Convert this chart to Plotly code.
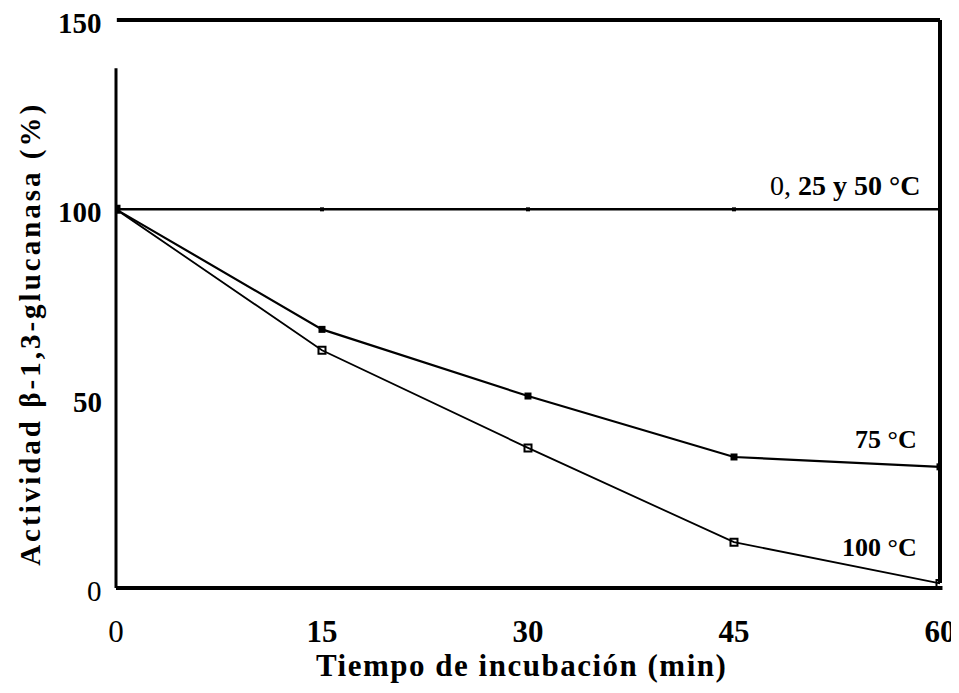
import plotly.graph_objects as go

# datos (actividad residual, %)
tiempo = [0, 15, 30, 45, 60]
act_0_25_50 = [100, 100, 100, 100, 100]
act_75 = [100, 68.3, 50.7, 34.6, 32]
act_100 = [100, 62.8, 37.0, 12.1, 1.2]

x_ticks = [0, 15, 30, 45, 60]
x_ticktext = ["0", "<b>15</b>", "<b>30</b>", "<b>45</b>", "<b>60</b>"]
y_ticks = [0, 50, 100, 150]
y_ticktext = ["0", "<b>50</b>", "<b>100</b>", "<b>150</b>"]

FONT = "Liberation Serif"

fig = go.Figure()

fig.add_trace(go.Scatter(
    x=tiempo, y=act_0_25_50, mode="lines+markers",
    line=dict(color="black", width=2.5),
    marker=dict(symbol="square", size=4, color="black"),
    name="0, 25 y 50 °C",
))
fig.add_trace(go.Scatter(
    x=tiempo, y=act_75, mode="lines+markers",
    line=dict(color="black", width=2.2),
    marker=dict(symbol="square", size=7, color="black"),
    name="75 °C",
))
fig.add_trace(go.Scatter(
    x=tiempo, y=act_100, mode="lines+markers",
    line=dict(color="black", width=1.8),
    marker=dict(symbol="square-open", size=7, color="black", line=dict(width=2)),
    name="100 °C",
))

# marco del gráfico (la esquina superior izquierda queda abierta como en el original)
frame = dict(type="line", xref="paper", yref="paper", line=dict(color="black", width=4))
fig.add_shape(**frame, x0=0.001, x1=1.0, y0=1, y1=1)
fig.add_shape(**frame, x0=1.0, x1=1.0, y0=0.009, y1=1)
fig.add_shape(**frame, x0=0, x1=1.003, y0=0, y1=0)
fig.add_shape(type="line", xref="paper", yref="paper", x0=0, x1=0, y0=0, y1=0.915,
              line=dict(color="black", width=3))

# etiquetas del eje y (un poco por debajo de cada valor, como en el original)
for v, t in zip(y_ticks, y_ticktext):
    fig.add_annotation(x=0, y=v, xref="paper", yref="y", xanchor="right", yanchor="middle",
                       xshift=-12, yshift=-3, showarrow=False, text=t,
                       font=dict(family=FONT, size=29, color="black"))

# etiquetas de las curvas
fig.add_annotation(x=58.7, y=100, xref="x", yref="y", xanchor="right", yanchor="middle",
                   yshift=24, showarrow=False,
                   text="<span style='font-weight:normal'>0, </span><b>25 y 50 °C</b>",
                   font=dict(family=FONT, size=28, color="black"))
fig.add_annotation(x=58.5, y=act_75[-1], xref="x", yref="y", xanchor="right", yanchor="middle",
                   yshift=27, showarrow=False, text="<b>75 °C</b>",
                   font=dict(family=FONT, size=26, color="black"))
fig.add_annotation(x=58.5, y=act_100[3], xref="x", yref="y", xanchor="right", yanchor="middle",
                   yshift=-5, showarrow=False, text="<b>100 °C</b>",
                   font=dict(family=FONT, size=26, color="black"))

# títulos de los ejes
fig.add_annotation(x=0.492, y=-0.136, xref="paper", yref="paper", showarrow=False,
                   xanchor="center", yanchor="middle",
                   text="<b><span style='letter-spacing:1.5px'>Tiempo de incubación (min)</span></b>",
                   font=dict(family=FONT, size=31, color="black"))
fig.add_annotation(x=-0.104, y=0.448, xref="paper", yref="paper", showarrow=False,
                   xanchor="center", yanchor="middle", textangle=-90,
                   text="<b><span style='letter-spacing:3px'>Actividad β-1,3-glucanasa (%)</span></b>",
                   font=dict(family=FONT, size=29, color="black"))

# la página deja 8 px de margen alrededor de la figura
fig.update_layout(
    width=951, height=685,
    margin=dict(l=108, r=19, t=12, b=105),
    paper_bgcolor="white", plot_bgcolor="white",
    showlegend=False,
    font=dict(family=FONT, color="black"),
)
fig.update_xaxes(
    range=[0, 60], showgrid=False, zeroline=False, showline=False, automargin=False,
    tickvals=x_ticks, ticktext=x_ticktext, ticks="",
    tickfont=dict(family=FONT, size=31, color="black"),
    ticklabelstandoff=22, ticklabeloverflow="allow",
)
fig.update_yaxes(
    range=[0, 150], showgrid=False, zeroline=False, showline=False, automargin=False,
    tickvals=y_ticks, showticklabels=False, ticks="",
)

fig.write_html("out.html")
